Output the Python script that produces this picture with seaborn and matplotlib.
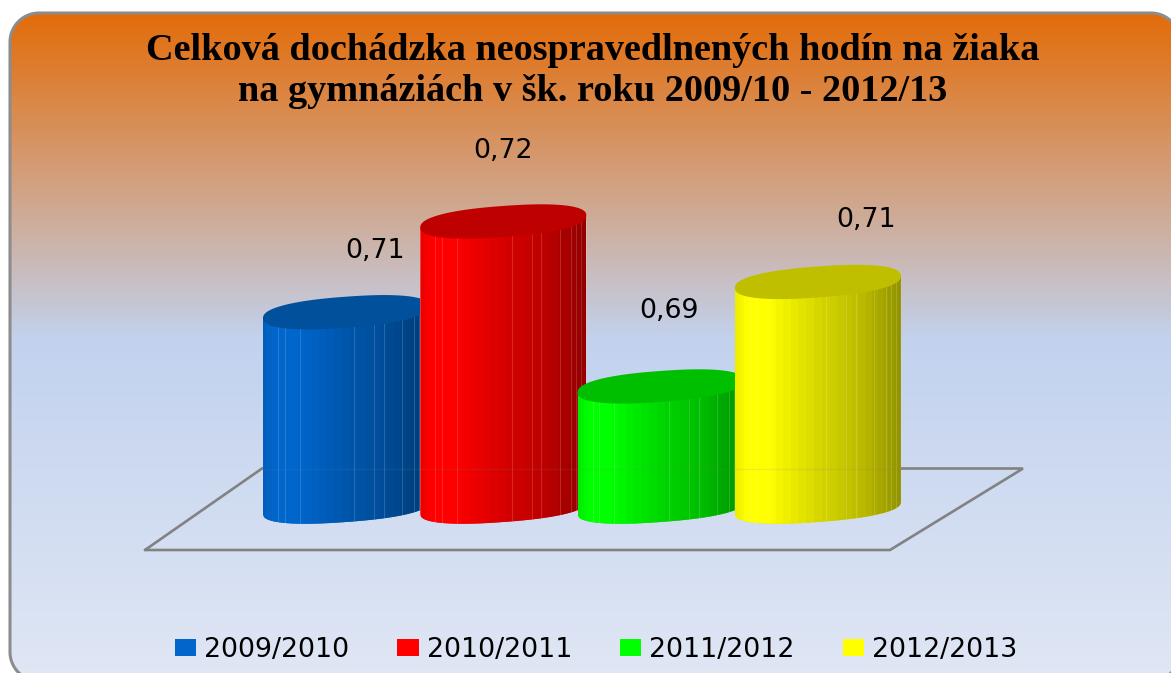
import numpy as np
import pandas as pd
import matplotlib
matplotlib.use("Agg")
import matplotlib.pyplot as plt
from matplotlib.patches import Polygon, Patch
from matplotlib.colors import LinearSegmentedColormap, to_rgb
import seaborn as sns

# ---- data ----
years = ["2009/2010", "2010/2011", "2011/2012", "2012/2013"]
values = [0.7035, 0.7200, 0.6900, 0.7090]   # heights as drawn
value_labels = ["0,71", "0,72", "0,69", "0,71"]
colors = ["#0066CC", "#FF0000", "#00FF00", "#FFFF00"]
top_colors = ["#00509C", "#BF0000", "#00BF00", "#BFBF00"]
title_lines = "Celková dochádzka neospravedlnených hodín na žiaka\nna gymnáziách v šk. roku 2009/10 - 2012/13"

# ---- layout constants (pixels) ----
W, H = 1171, 673
UNIT_PX = 157.3
X0_PX = 346
BASE_PX = 508
BASE_VAL = 0.6679
PX_PER_VAL = 165 / 0.03
BAR_WIDTH = 166 / UNIT_PX
TOP_B = 15.5 / PX_PER_VAL
BASE_B = 14.0 / PX_PER_VAL
ELL_TILT = 6.0 / PX_PER_VAL
SUPER = 0.85
label_offsets = [(29, 61), (0, 70), (8, 75), (48, 62)]
FS = 19.3


def rounded_outline(l, t, r, b, rad, n=24):
    a = np.linspace(0, np.pi / 2, n)
    c, s = np.cos(a), np.sin(a)
    xs = np.r_[l + rad - rad * c, r - rad + rad * s, r - rad + rad * c, l + rad - rad * s]
    ys = np.r_[t + rad - rad * s, t + rad - rad * c, b - rad + rad * s, b - rad + rad * c]
    return np.column_stack([xs, ys])


sns.set_theme(style="white")
plt.rcParams["font.family"] = ["DejaVu Sans"]
fig = plt.figure(figsize=(W / 100, H / 100), dpi=100, facecolor="white")

# ---- background panel ----
bg = fig.add_axes([0, 0, 1, 1], zorder=0)
bg.axis("off")
grad = LinearSegmentedColormap.from_list(
    "panel", [(0, "#E36C0A"), (0.49, "#C2D2EE"), (1, "#E0E7F5")])
im = bg.imshow(np.linspace(0, 1, 400)[:, None], extent=(9, 1185, 682, 12), cmap=grad,
               aspect="auto", zorder=1)
outline = rounded_outline(10, 13, 1180, 681, 29)
panel = Polygon(outline, closed=True, fc="none", ec="#8C8C8C", lw=2.2, zorder=2,
                joinstyle="round")
bg.add_patch(panel)
im.set_clip_path(panel)
# floor of the 3D plot
bg.plot([145, 890, 1023, 262, 145], [550, 550, 468.5, 468.5, 550], color="#828282",
        lw=1.9, solid_joinstyle="miter", zorder=3)
bg.set_xlim(0, W)
bg.set_ylim(H, 0)

# ---- bars ----
ax = fig.add_axes([0, 0, 1, 1], zorder=1)
df = pd.DataFrame({"year": years, "value": values})
sns.barplot(data=df, x="year", y="value", hue="year", order=years, hue_order=years,
            palette=colors, width=BAR_WIDTH, dodge=False, legend=False, ax=ax)
ax.set_xlim(-X0_PX / UNIT_PX, (W - X0_PX) / UNIT_PX)
ax.set_ylim(BASE_VAL - (H - BASE_PX) / PX_PER_VAL, BASE_VAL + BASE_PX / PX_PER_VAL)
ax.axis("off")

t = np.linspace(0, 2 * np.pi, 241)
cos_t = np.sign(np.cos(t)) * np.abs(np.cos(t)) ** SUPER
sin_t = np.sign(np.sin(t)) * np.abs(np.sin(t)) ** SUPER
strip_fracs = [0.09, 0.13, 0.22, 0.55, 0.67, 0.73, 0.84, 0.91, 0.94, 0.97]
for i, container in enumerate(ax.containers):
    bar = container[0]
    x0, w, top = bar.get_x(), bar.get_width(), bar.get_height()
    cx, a = x0 + w / 2, w / 2
    z = 5 + i
    ex = cx + a * cos_t
    top_y = top + TOP_B * sin_t + ELL_TILT * cos_t
    base_y = BASE_VAL + BASE_B * sin_t + ELL_TILT * cos_t
    # outline of the side: lower half of the base ellipse + sides to the top
    low = (t >= np.pi)
    side = np.column_stack([
        np.r_[ex[low], x0 + w, x0],
        np.r_[base_y[low], top + ELL_TILT, top - ELL_TILT]])
    clip = Polygon(side, closed=True, transform=ax.transData)
    span_low = BASE_VAL - 2 * BASE_B - ELL_TILT
    bar.set_bounds(x0, span_low, w, top - span_low)
    bar.set_zorder(z)
    bar.set_clip_path(clip)
    # shaded strips
    theta = np.linspace(0, np.pi, 34)
    edges = cx - a * np.cos(theta)
    mids = 0.5 * (edges[:-1] + edges[1:])
    frac = (mids - x0) / w
    shade = np.interp(frac, [0, 0.07, 0.2, 0.5, 0.75, 1], [0.92, 1, 1, 0.84, 0.74, 0.57])
    rgb = np.array(to_rgb(colors[i]))
    rgb_row = (shade[:, None] * rgb)[None, :, :]
    mesh = ax.pcolormesh(edges, [span_low, top + 2 * TOP_B], rgb_row,
                         shading="flat", zorder=z, edgecolors="face", linewidth=0)
    mesh.set_clip_path(clip)
    # thin light seams
    lines = ax.vlines(x0 + np.array(strip_fracs) * w, span_low, top + 2 * TOP_B,
                      color="white", alpha=0.16, lw=0.7, zorder=z)
    lines.set_clip_path(clip)
    # faint floor line seen through the bar
    seam = ax.plot([x0, x0 + w], [BASE_VAL + 39.5 / PX_PER_VAL] * 2, color="#808080",
                   alpha=0.12, lw=1, zorder=z)[0]
    seam.set_clip_path(clip)
    # top cap
    ax.add_patch(Polygon(np.column_stack([ex, top_y]), closed=True, fc=top_colors[i],
                         ec="none", zorder=z))
    # value label
    ax.annotate(value_labels[i], (cx, top),
                xytext=(label_offsets[i][0] * 0.72, label_offsets[i][1] * 0.72),
                textcoords="offset points", ha="center", va="center", fontsize=FS,
                color="black", zorder=50)

# ---- title ----
fig.text(592.5 / W, 1 - 71 / H, title_lines, ha="center", va="center", family="Liberation Serif",
         weight="bold", fontsize=27.5, color="black", linespacing=1.23, zorder=5)

# ---- legend ----
handles = [Patch(fc=c, ec="none", label=y) for c, y in zip(colors, years)]
ax.legend(handles=handles, ncols=4, loc="center", bbox_to_anchor=(596 / W, 1 - 650 / H),
          bbox_transform=fig.transFigure, frameon=False, fontsize=FS, labelcolor="black",
          handlelength=0.79, handleheight=0.62, handletextpad=0.3, columnspacing=1.79,
          borderpad=0, borderaxespad=0)

fig.savefig("out.png", dpi=100, facecolor="white")
